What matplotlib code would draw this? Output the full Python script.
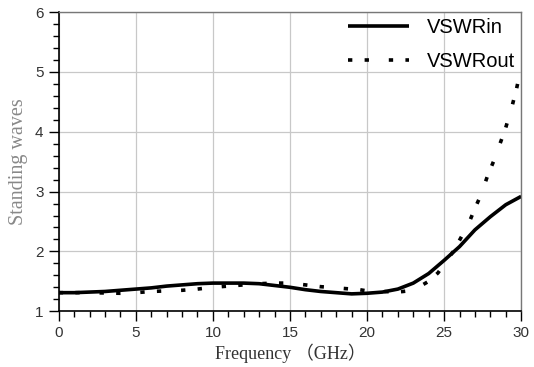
import matplotlib.pyplot as plt
from matplotlib.ticker import MultipleLocator

# VSWRin (solid)
f_in = [0, 1, 2, 3, 4, 5, 6, 7, 8, 9, 10, 11, 12, 13, 14, 15, 16, 17, 18, 19, 20,
        21, 22, 23, 24, 25, 26, 27, 28, 29, 30]
vswr_in = [1.31, 1.31, 1.32, 1.33, 1.35, 1.37, 1.39, 1.42, 1.44, 1.46, 1.47, 1.47, 1.47,
           1.46, 1.43, 1.40, 1.36, 1.33, 1.31, 1.29, 1.30, 1.32, 1.37, 1.47, 1.63, 1.85,
           2.08, 2.36, 2.58, 2.78, 2.92]

# VSWRout (dotted)
f_out = [0, 2, 4, 5, 6, 7, 8, 9, 10, 11, 12, 13, 14, 15, 16, 17, 18, 19, 19.5, 20,
         21, 22, 23, 24, 24.6, 25.6, 26.2, 26.6, 27, 27.4, 27.8, 28.2, 28.6, 29, 29.4,
         29.7, 30]
vswr_out = [1.31, 1.31, 1.30, 1.31, 1.33, 1.34, 1.35, 1.37, 1.40, 1.42, 1.44, 1.46, 1.47,
            1.47, 1.44, 1.41, 1.39, 1.37, 1.36, 1.34, 1.33, 1.32, 1.35, 1.50, 1.64, 2.00,
            2.28, 2.47, 2.72, 2.95, 3.25, 3.50, 3.78, 4.07, 4.42, 4.72, 5.08]

plt.rcParams['font.family'] = ['Liberation Sans', 'DejaVu Sans']

fig = plt.figure(figsize=(5.34, 3.67), dpi=100)
ax = fig.add_axes([0.11, 0.152, 0.866, 0.815])

ax.plot(f_in, vswr_in, color='black', lw=2.6, label='VSWRin', solid_capstyle='butt')
ax.plot(f_out, vswr_out, color='black', lw=2.6, label='VSWRout',
        dashes=(1.2, 3.4, 1.2, 5.5))

ax.set_xlim(0, 30)
ax.set_ylim(1, 6)
ax.xaxis.set_major_locator(MultipleLocator(5))
ax.xaxis.set_minor_locator(MultipleLocator(1))
ax.yaxis.set_major_locator(MultipleLocator(1))
ax.yaxis.set_minor_locator(MultipleLocator(0.2))

ax.grid(True, which='major', color='#c8c8c8', lw=0.9)
ax.set_axisbelow(True)

ax.tick_params(axis='both', which='major', direction='out', length=7, width=1,
               labelsize=11, labelcolor='#333333', pad=4)
ax.tick_params(axis='both', which='minor', direction='out', length=4, width=1)

for s in ['left', 'bottom']:
    ax.spines[s].set_color('black')
    ax.spines[s].set_linewidth(1.2)
for s in ['top', 'right']:
    ax.spines[s].set_color('#777777')
    ax.spines[s].set_linewidth(1)

ax.set_xlabel('Frequency （GHz）', family=['Liberation Serif', 'Noto Sans CJK SC'],
              fontsize=13, color='#333333', labelpad=2)
ax.set_ylabel('Standing waves', family=['Liberation Serif', 'DejaVu Serif'],
              fontsize=14.5, color='#888888', labelpad=5)

leg = ax.legend(loc='upper right', frameon=False, fontsize=14.5, handlelength=3.0,
                borderaxespad=0.0, labelspacing=0.75, handletextpad=0.9,
                borderpad=0.3)

fig.savefig('out.png', dpi=100)
